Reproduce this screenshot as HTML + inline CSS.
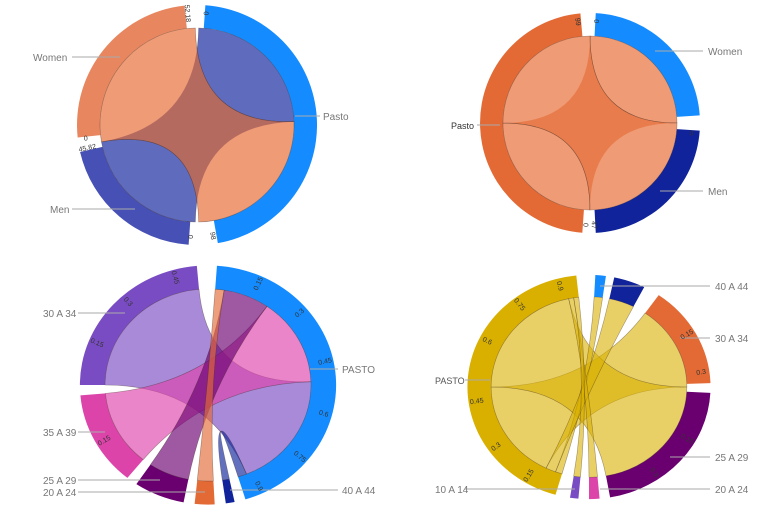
<!DOCTYPE html>
<html><head><meta charset="utf-8">
<style>
html,body{margin:0;padding:0;background:#fff;}
svg{display:block;}
text{font-family:"Liberation Sans",sans-serif;}
</style></head>
<body>
<svg id="s" width="775" height="512" viewBox="0 0 775 512" xmlns="http://www.w3.org/2000/svg">
<defs></defs>
</svg>
<script>
const NS="http://www.w3.org/2000/svg";
const svg=document.getElementById('s');
const defs=svg.querySelector('defs');
let cid=0;
function el(t,a,p){const e=document.createElementNS(NS,t);for(const k in a)e.setAttribute(k,a[k]);(p||svg).appendChild(e);return e;}
function chart(C){
  const rad=d=>d*Math.PI/180;
  const P=(th,r)=>[C.cx+r*C.kx*Math.sin(rad(th)),C.cy-r*C.ky*Math.cos(rad(th))];
  const f=p=>p[0].toFixed(2)+' '+p[1].toFixed(2);
  const arc=(a,b,r,sw)=>{const lg=Math.abs(b-a)>180?1:0;return `A ${(r*C.kx).toFixed(2)} ${(r*C.ky).toFixed(2)} 0 ${lg} ${sw} ${f(P(b,r))}`;};
  C.groups.forEach(g=>{
    const d=`M ${f(P(g.a[0],C.R))} ${arc(g.a[0],g.a[1],C.R,1)} L ${f(P(g.a[1],C.r))} ${arc(g.a[1],g.a[0],C.r,0)} Z`;
    el('path',{d,fill:g.c});
  });
  const c=`${C.cx} ${C.cy}`;
  const cp=ch=>`M ${f(P(ch.a[0],C.r))} ${arc(ch.a[0],ch.a[1],C.r,1)} Q ${c} ${f(P(ch.b[0],C.r))} ${arc(ch.b[0],ch.b[1],C.r,1)} Q ${c} ${f(P(ch.a[0],C.r))} Z`;
  C.chords.forEach(ch=>{
    el('path',{d:cp(ch),fill:ch.c,'fill-opacity':C.op||1,stroke:'rgba(60,40,30,0.45)','stroke-width':0.6});
  });
  if(C.overlap){
    const id='c'+(cid++);
    const cl=el('clipPath',{id},defs);el('path',{d:cp(C.chords[0])},cl);
    el('path',{d:cp(C.chords[1]),fill:C.overlap,'clip-path':`url(#${id})`,stroke:'rgba(60,40,30,0.45)','stroke-width':0.6});
  }
  C.labels.forEach(L=>{
    el('line',{x1:L.lx1,y1:L.y,x2:L.lx2,y2:L.y,stroke:'#aaa','stroke-width':1});
    const t=el('text',{x:L.x,y:L.y+4,'font-size':L.fs||10,fill:L.col||'#777','text-anchor':L.anc||'start'});t.textContent=L.t;
  });
  (C.ticks||[]).forEach(T=>{
    const p=P(T.th,C.R-8);
    const t=el('text',{x:p[0],y:p[1],'font-size':7,fill:'#333','text-anchor':'middle','dominant-baseline':'middle',transform:`rotate(${T.th-90+(T.th>180?180:0)} ${p[0]} ${p[1]})`});
    t.textContent=T.t;
  });
}
chart({cx:197,cy:125,R:120,r:97,kx:1,ky:1,
 groups:[{a:[4,170],c:'#148cff'},{a:[184,257],c:'#4650b5'},{a:[264,354],c:'#e8875f'}],
 chords:[{a:[1,88],b:[181,260],c:'#5f6bbd'},{a:[88,179],b:[260,359],c:'#ee9b76'}],
 overlap:'#b56a60',
 labels:[{t:'Women',x:33,y:57,lx1:72,lx2:120},{t:'Pasto',x:323,y:116,lx1:295,lx2:320},{t:'Men',x:50,y:209,lx1:72,lx2:135}],
 ticks:[{th:355,t:'52.18'},{th:5,t:'0'},{th:263,t:'0'},{th:258,t:'45.82'},{th:183,t:'0'},{th:172,t:'98'}]
});
chart({cx:590,cy:123,R:110,r:87,kx:1,ky:1,
 groups:[{a:[184,355],c:'#e46a35'},{a:[3,86],c:'#148cff'},{a:[94,177],c:'#10239a'}],
 chords:[{a:[0,90],b:[180,270],c:'#ee9b76'},{a:[90,180],b:[270,360],c:'#ee9b76'}],
 overlap:'#e87c4c',
 labels:[{t:'Women',x:708,y:51,lx1:655,lx2:703},{t:'Men',x:708,y:191,lx1:660,lx2:703},{t:'Pasto',x:451,y:125,lx1:477,lx2:500,col:'#333',fs:9}],
 ticks:[{th:353,t:'99'},{th:4,t:'0'},{th:96,t:'0'},{th:182,t:'0'},{th:178,t:'47'}]
});
chart({cx:208,cy:385,R:122,r:98,kx:1.05,ky:0.98,op:0.65,
 groups:[{a:[4,163],c:'#148cff'},{a:[168,172],c:'#10239a'},{a:[177,186],c:'#e46a35'},{a:[191,214],c:'#6a0070'},{a:[219,265],c:'#dd44aa'},{a:[270,355],c:'#7a4cc4'}],
 chords:[{a:[88,158],b:[270,355],c:'#7a4cc4'},{a:[35,88],b:[219,265],c:'#dd44aa'},{a:[9,35],b:[191,214],c:'#6a0070'},{a:[4,9],b:[177,186],c:'#e46a35'},{a:[158,163],b:[168,172],c:'#10239a'}],
 labels:[{t:'30 A 34',x:43,y:313,lx1:78,lx2:125},{t:'PASTO',x:342,y:369,lx1:310,lx2:338},{t:'35 A 39',x:43,y:432,lx1:78,lx2:105},{t:'25 A 29',x:43,y:480,lx1:78,lx2:160},{t:'20 A 24',x:43,y:492,lx1:78,lx2:205},{t:'40 A 44',x:342,y:490,lx1:230,lx2:338}],
 ticks:[{th:25,t:'0.15'},{th:50,t:'0.3'},{th:78,t:'0.45'},{th:105,t:'0.6'},{th:130,t:'0.75'},{th:155,t:'0.9'},{th:344,t:'0.45'},{th:318,t:'0.3'},{th:292,t:'0.15'},{th:240,t:'0.15'}]
});
chart({cx:589,cy:387,R:118,r:95,kx:1.03,ky:0.95,op:0.6,
 groups:[{a:[196,354],c:'#d9b000'},{a:[3,8],c:'#148cff'},{a:[12,27],c:'#10239a'},{a:[35,88],c:'#e46a35'},{a:[93,170],c:'#6a0070'},{a:[175,180],c:'#dd44aa'},{a:[185,189],c:'#7a4cc4'}],
 chords:[{a:[35,90],b:[206,270],c:'#d9b000'},{a:[90,170],b:[270,348],c:'#d9b000'},{a:[3,8],b:[196,200],c:'#d9b000'},{a:[12,27],b:[200,206],c:'#d9b000'},{a:[175,180],b:[348,351],c:'#d9b000'},{a:[185,189],b:[351,354],c:'#d9b000'}],
 labels:[{t:'40 A 44',x:715,y:286,lx1:600,lx2:710},{t:'30 A 34',x:715,y:338,lx1:680,lx2:710},{t:'25 A 29',x:715,y:457,lx1:670,lx2:710},{t:'20 A 24',x:715,y:489,lx1:600,lx2:710},{t:'PASTO',x:435,y:380,lx1:465,lx2:490,col:'#555',fs:9},{t:'10 A 14',x:435,y:489,lx1:465,lx2:575}],
 ticks:[{th:345,t:'0.9'},{th:322,t:'0.75'},{th:296,t:'0.6'},{th:262,t:'0.45'},{th:235,t:'0.3'},{th:212,t:'0.15'},{th:60,t:'0.15'},{th:82,t:'0.3'},{th:120,t:'0.15'},{th:145,t:'0.3'}]
});
</script>
</body></html>
